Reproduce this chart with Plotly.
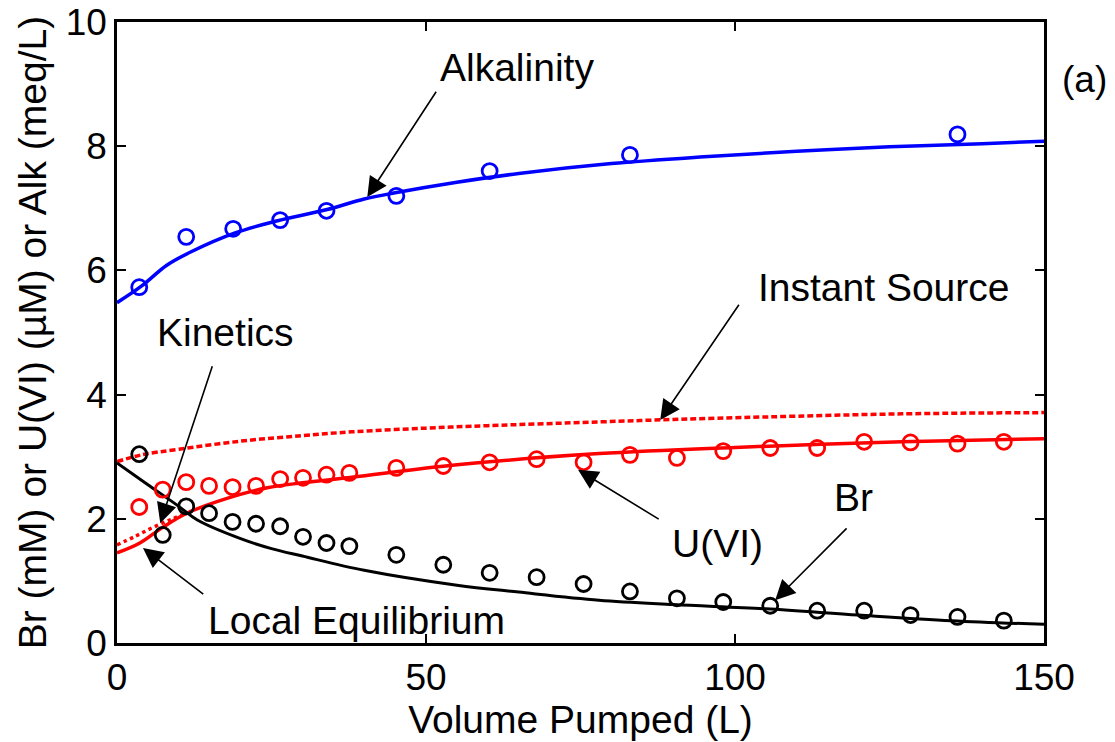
import plotly.graph_objects as go

# measured samples (volume pumped, L)
vol_obs = [3.6, 7.4, 11.2, 14.9, 18.7, 22.5, 26.4, 30.1, 33.9, 37.6, 45.2, 52.8,
           60.3, 67.9, 75.5, 83.0, 90.6, 98.1, 105.7, 113.3, 120.9, 128.4, 136.0, 143.5]
br_obs = [3.04, 1.74, 2.2, 2.09, 1.95, 1.92, 1.88, 1.71, 1.61, 1.56, 1.42, 1.26,
          1.13, 1.06, 0.95, 0.83, 0.72, 0.66, 0.60, 0.52, 0.52, 0.45, 0.42, 0.36]
u_obs = [2.19, 2.47, 2.59, 2.53, 2.51, 2.53, 2.64, 2.66, 2.71, 2.74, 2.82, 2.85,
         2.91, 2.96, 2.91, 3.03, 2.98, 3.09, 3.14, 3.14, 3.24, 3.23, 3.21, 3.24]
alk_vol = [3.6, 11.2, 18.8, 26.4, 33.9, 45.2, 60.3, 83.0, 136.0]
alk_obs = [5.73, 6.54, 6.67, 6.81, 6.96, 7.2, 7.6, 7.86, 8.19]

# model curves
alk_x = [0, 4, 8, 12, 19, 26, 34, 40, 45, 55, 65, 80, 95, 110, 125, 140, 150]
alk_y = [5.48, 5.75, 6.08, 6.3, 6.6, 6.8, 6.98, 7.15, 7.25, 7.42, 7.56, 7.72, 7.83, 7.92, 7.99, 8.04, 8.08]

inst_x = [0, 4, 10, 20, 30, 38, 50, 60, 78, 90, 105, 127, 150]
inst_y = [2.92, 3.03, 3.12, 3.25, 3.34, 3.4, 3.46, 3.5, 3.56, 3.6, 3.64, 3.69, 3.71]

eq_x = [0, 3.7, 7.2, 11.3, 17.8, 24.3, 30, 38, 55, 78, 100, 127, 150]
eq_y = [1.45, 1.61, 1.85, 2.09, 2.33, 2.5, 2.58, 2.67, 2.87, 3.05, 3.15, 3.24, 3.29]

kin_x = [0, 3, 6, 9, 11.5]
kin_y = [1.58, 1.72, 1.87, 2.0, 2.1]

br_x = [0, 5, 10, 13, 20, 25, 30, 40, 55, 65, 78, 90, 105, 120, 135, 150]
br_y = [2.9, 2.55, 2.2, 1.98, 1.68, 1.52, 1.4, 1.17, 0.93, 0.82, 0.69, 0.62, 0.55, 0.45, 0.36, 0.3]

FONT = "Liberation Sans, Arial, sans-serif"
BLUE = "#0000ff"
RED = "#ff0000"

fig = go.Figure()

fig.add_trace(go.Scatter(x=alk_x, y=alk_y, mode="lines", line=dict(color=BLUE, width=3.5), line_shape="spline"))
fig.add_trace(go.Scatter(x=inst_x, y=inst_y, mode="lines", line=dict(color=RED, width=3.5, dash="6px,3px"), line_shape="spline"))
fig.add_trace(go.Scatter(x=eq_x, y=eq_y, mode="lines", line=dict(color=RED, width=3.5), line_shape="spline"))
fig.add_trace(go.Scatter(x=kin_x, y=kin_y, mode="lines", line=dict(color=RED, width=3.5, dash="dot"), line_shape="spline"))
fig.add_trace(go.Scatter(x=br_x, y=br_y, mode="lines", line=dict(color="black", width=3), line_shape="spline"))

circle = dict(symbol="circle-open", size=15, line=dict(width=2.8))
fig.add_trace(go.Scatter(x=alk_vol, y=alk_obs, mode="markers", marker=dict(circle, color=BLUE)))
fig.add_trace(go.Scatter(x=vol_obs, y=u_obs, mode="markers", marker=dict(circle, color=RED)))
fig.add_trace(go.Scatter(x=vol_obs, y=br_obs, mode="markers", marker=dict(circle, color="black")))

# labels: (text, text x, text y, arrow tip x, tip y, tail x, tail y)
labels = [
    ("Alkalinity", 64.7, 9.26, 40.5, 7.18, 51.8, 8.9),
    ("Instant Source", 124.0, 5.73, 87.9, 3.59, 100.8, 5.47),
    ("Kinetics", 17.5, 5.0, 7.0, 1.93, 15.5, 4.48),
    ("Local Equilibrium", 38.7, 0.37, 4.2, 1.53, 14.2, 0.77),
    ("U(VI)", 97.2, 1.61, 74.6, 2.79, 87.9, 1.98),
    ("Br", 119.1, 2.35, 106.5, 0.69, 118.3, 1.87),
]
for txt, tx, ty, hx, hy, sx, sy in labels:
    fig.add_annotation(x=tx, y=ty, text=txt, showarrow=False,
                       font=dict(family=FONT, size=39, color="black"))
    fig.add_annotation(x=hx, y=hy, ax=sx, ay=sy, axref="x", ayref="y", text="",
                       showarrow=True, arrowhead=2, arrowsize=2.5, arrowwidth=1.6,
                       arrowcolor="black")

fig.add_annotation(x=1.044, y=0.907, xref="paper", yref="paper", text="(a)",
                   xanchor="center", yanchor="middle",
                   showarrow=False, font=dict(family=FONT, size=37, color="black"))

axis = dict(showline=True, linecolor="black", linewidth=2.5, mirror="ticks",
            ticks="inside", ticklen=9, tickwidth=2, tickcolor="black",
            showgrid=False, zeroline=False, ticklabeloverflow="allow",
            automargin=False,
            tickfont=dict(family=FONT, size=37, color="black"))

# page body adds an 8px offset at top/left, so the figure is drawn 8px smaller
fig.update_layout(
    width=1107, height=734,
    margin=dict(l=109, r=71, t=14, b=99),
    plot_bgcolor="white", paper_bgcolor="white",
    showlegend=False,
    xaxis=dict(axis, range=[0, 150], tickvals=[0, 50, 100, 150],
               title=dict(text="Volume Pumped (L)", standoff=2,
                          font=dict(family=FONT, size=39, color="black"))),
    yaxis=dict(axis, range=[0, 10], tickvals=[0, 2, 4, 6, 8, 10],
               title=dict(text="Br (mM) or U(VI) (\u00b5M) or Alk (meq/L)", standoff=8,
                          font=dict(family=FONT, size=39, color="black"))),
)

fig.write_html("out.html")
